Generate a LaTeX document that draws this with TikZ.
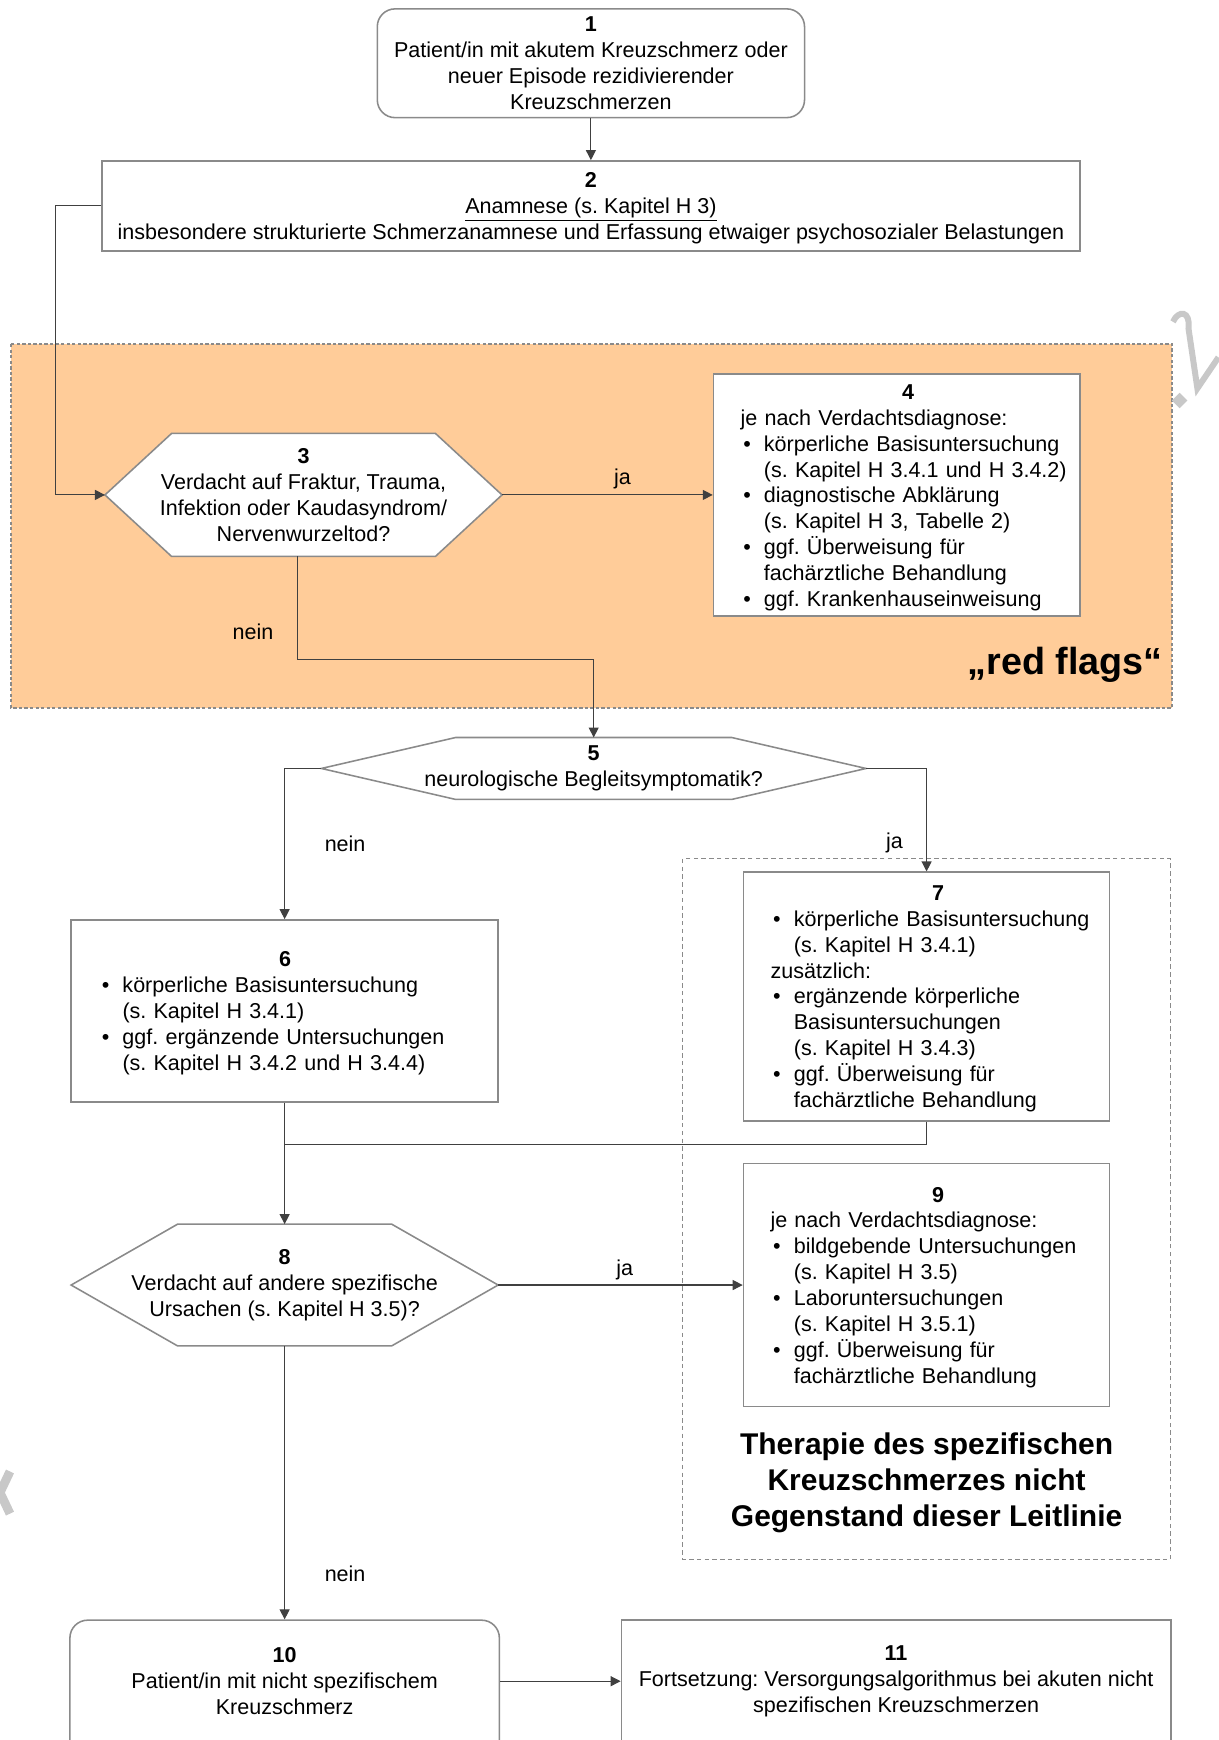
\documentclass[tikz,border=0pt]{standalone}
\usepackage{fontspec}
\setmainfont{Liberation Sans}
\usetikzlibrary{arrows.meta,calc}
\definecolor{lineC}{HTML}{404040}
\definecolor{boxC}{HTML}{8A8A8A}
\definecolor{flagC}{HTML}{FFCC99}
\definecolor{wmC}{HTML}{C8C8C8}
\pgfdeclarelayer{bg}
\pgfdeclarelayer{mid}
\pgfsetlayers{bg,mid,main}
\frenchspacing
\newcommand{\numline}[1]{\centerline{\textbf{#1}}}
\newcommand{\plainline}[1]{\par\noindent #1}
\newcommand{\bitem}[1]{\par\noindent\makebox[10.5pt][l]{\hspace{1.2pt}\textbullet}#1}
\newcommand{\cont}[1]{\par\noindent\hspace*{10.5pt}#1}
\begin{document}
\begin{tikzpicture}[x=0.5pt,y=-0.5pt,
  every node/.style={font=\fontsize{9.7pt}{11.65pt}\selectfont\frenchspacing, inner sep=0pt},
  conn/.style={draw=lineC, line width=0.5pt, -{Triangle[length=4.5pt,width=4.5pt]}},
  plain/.style={draw=lineC, line width=0.5pt},
  box/.style={draw=boxC, line width=0.7pt, fill=white},
  rbox/.style={box, rounded corners=8pt},
  hexshape/.style={draw=boxC, line width=0.7pt, fill=white},
  hexnode/.style={align=center},
  blocktxt/.style={anchor=west, align=left},
  lbl/.style={},
  bigtxt/.style={font=\fontsize{13.5pt}{16.25pt}\selectfont\bfseries, align=center}
]
\useasboundingbox (0,0) rectangle (1098,1568);
\clip (0,0) rectangle (1098,1568);

% regions
\begin{pgfonlayer}{bg}
  \fill[flagC] (10,310) rectangle (1056,638);
  \draw[boxC, line width=0.6pt, dash pattern=on 1.5pt off 1pt] (10,310) rectangle (1056,638);
  \draw[boxC, line width=0.5pt, dash pattern=on 2pt off 1.5pt] (615,774) rectangle (1055,1405);
  % watermark fragments
  \draw[wmC, line width=2.7pt] (1057,290) .. controls (1062,279) and (1073,280) .. (1071,296) -- (1079,350) -- (1098,322);
  \fill[wmC] (1063,354) -- (1070,361) -- (1063,368) -- (1056,361) -- cycle;
  \draw[wmC, line width=4pt] (9,1326) -- (0,1345) -- (9,1364);
\end{pgfonlayer}

% boxes
\node[rbox, minimum width=192.5pt, minimum height=49pt, align=center] (b1) at (532.5,57)
  {\textbf{1}\\Patient/in mit akutem Kreuzschmerz oder\\neuer Episode rezidivierender\\Kreuzschmerzen};
\node[box, minimum width=440.5pt, minimum height=40.5pt] (b2) at (532.5,185.5) {};
\node[align=center] (t2) at (532.5,187.5)
  {\textbf{2}\\\underline{Anamnese (s. Kapitel H 3)}\\insbesondere strukturierte Schmerzanamnese und Erfassung etwaiger psychosozialer Belastungen};

\node[hexnode, minimum width=178.5pt, minimum height=55pt] (h3) at (273.5,446)
  {\textbf{3}\\Verdacht auf Fraktur, Trauma,\\Infektion oder Kaudasyndrom/\\Nervenwurzeltod?};

\node[box, minimum width=165pt, minimum height=109pt] (b4) at (808,446) {};
\node[blocktxt, text width=151pt] (t4) at (667,448.5) {%
  \numline{4}%
  \plainline{je nach Verdachtsdiagnose:}%
  \bitem{körperliche Basisuntersuchung}%
  \cont{(s. Kapitel H 3.4.1 und H 3.4.2)}%
  \bitem{diagnostische Abklärung}%
  \cont{(s. Kapitel H 3, Tabelle 2)}%
  \bitem{ggf. Überweisung für}%
  \cont{fachärztliche Behandlung}%
  \bitem{ggf. Krankenhauseinweisung}};

\node[font=\fontsize{17pt}{20pt}\selectfont\bfseries, anchor=east] (rf) at (1048,599) {„red flags“};

\node[hexnode, minimum width=245pt, minimum height=27.5pt] (h5) at (535,692.5)
  {\textbf{5}\\neurologische Begleitsymptomatik?};

\node[box, minimum width=192.5pt, minimum height=82pt] (b6) at (256.5,911) {};
\node[blocktxt, text width=167.5pt] (t6) at (89,913) {%
  \numline{6}%
  \bitem{körperliche Basisuntersuchung}%
  \cont{(s. Kapitel H 3.4.1)}%
  \bitem{ggf. ergänzende Untersuchungen}%
  \cont{(s. Kapitel H 3.4.2 und H 3.4.4)}};

\node[box, minimum width=165pt, minimum height=112pt] (b7) at (835,898) {};
\node[blocktxt, text width=151pt] (t7) at (694,900) {%
  \numline{7}%
  \bitem{körperliche Basisuntersuchung}%
  \cont{(s. Kapitel H 3.4.1)}%
  \plainline{zusätzlich:}%
  \bitem{ergänzende körperliche}%
  \cont{Basisuntersuchungen}%
  \cont{(s. Kapitel H 3.4.3)}%
  \bitem{ggf. Überweisung für}%
  \cont{fachärztliche Behandlung}};

\node[hexnode, minimum width=192pt, minimum height=54.5pt] (h8) at (256.5,1158)
  {\textbf{8}\\Verdacht auf andere spezifische\\Ursachen (s. Kapitel H 3.5)?};

\node[box, minimum width=165pt, minimum height=109.5pt] (b9) at (835,1158) {};
\node[blocktxt, text width=151pt] (t9) at (694,1160) {%
  \numline{9}%
  \plainline{je nach Verdachtsdiagnose:}%
  \bitem{bildgebende Untersuchungen}%
  \cont{(s. Kapitel H 3.5)}%
  \bitem{Laboruntersuchungen}%
  \cont{(s. Kapitel H 3.5.1)}%
  \bitem{ggf. Überweisung für}%
  \cont{fachärztliche Behandlung}};

\node[bigtxt] (ther) at (835,1336) {Therapie des spezifischen\\Kreuzschmerzes nicht\\Gegenstand dieser Leitlinie};

\node[rbox, minimum width=193.5pt, minimum height=70pt] (b10) at (256.5,1530) {};
\node[align=center] (t10) at (256.5,1515)
  {\textbf{10}\\Patient/in mit nicht spezifischem\\Kreuzschmerz};
\node[box, minimum width=247.5pt, minimum height=70pt] (b11) at (807.5,1530) {};
\node[align=center] (t11) at (807.5,1515)
  {\textbf{11}\\Fortsetzung: Versorgungsalgorithmus bei akuten nicht\\spezifischen Kreuzschmerzen};
\coordinate (e10) at (b10.west |- t10.center);
\coordinate (e10r) at (b10.east |- t10.center);
\coordinate (w11) at (b11.west |- t10.center);

% hexagon outlines
\begin{pgfonlayer}{mid}
  \draw[hexshape] (h3.west) -- ([xshift=30pt]h3.north west) -- ([xshift=-30pt]h3.north east) -- (h3.east)
    -- ([xshift=-30pt]h3.south east) -- ([xshift=30pt]h3.south west) -- cycle;
  \draw[hexshape] (h5.west) -- ([xshift=60.5pt]h5.north west) -- ([xshift=-60.5pt]h5.north east) -- (h5.east)
    -- ([xshift=-60.5pt]h5.south east) -- ([xshift=60.5pt]h5.south west) -- cycle;
  \draw[hexshape] (h8.west) -- ([xshift=48pt]h8.north west) -- ([xshift=-48pt]h8.north east) -- (h8.east)
    -- ([xshift=-48pt]h8.south east) -- ([xshift=48pt]h8.south west) -- cycle;
\end{pgfonlayer}

% labels
\node[lbl] (l1) at (561,432) {ja};
\node[lbl] (l2) at (228,569) {nein};
\node[lbl] (l3) at (311,760) {nein};
\node[lbl] (l4) at (806,760) {ja};
\node[lbl] (l5) at (563,1144) {ja};
\node[lbl] (l6) at (311,1418) {nein};

% connectors
\coordinate (j) at (256.5,1031);
\draw[conn] (b1) -- (b2);
\draw[conn] (b2.west) -- ++(-41,0) |- (h3.west);
\draw[conn] (h3.east) -- (b4.west);
\draw[conn] ([xshift=-2.75pt]h3.south) -- ++(0,93) -| (h5.north);
\draw[conn] (h5.west) -| (b6.north);
\draw[conn] (h5.east) -| (b7.north);
\draw[conn] (b6.south) -- (h8.north);
\draw[plain] (b7.south) |- (j);
\draw[conn] (h8.east) -- (b9.west);
\draw[conn] (h8.south) -- (b10.north);
\draw[conn] (e10r) -- (w11);
\end{tikzpicture}
\end{document}
